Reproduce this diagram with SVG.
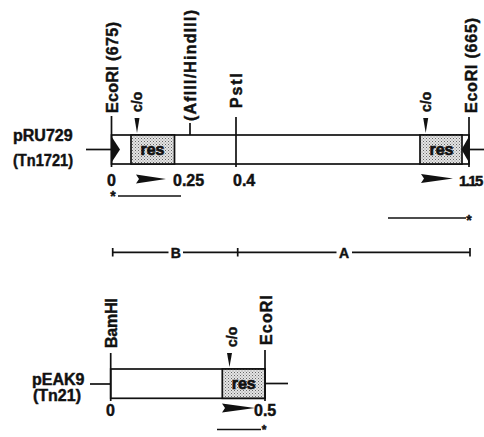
<svg xmlns="http://www.w3.org/2000/svg" width="484" height="437" viewBox="0 0 484 437">
<style>
text{font-family:"Liberation Sans",Arial,sans-serif;font-weight:bold;fill:#111;stroke:#111;stroke-width:0.45}
.ln{stroke:#111;stroke-width:1.7;fill:none}
.bar{stroke:#111;stroke-width:1.7;fill:#fff}
.res{stroke:#111;stroke-width:1.7;fill:url(#dots)}
.lab{font-size:16px}
.num{font-size:16px}
.co{font-size:14px}
.rs{font-size:16px;stroke-width:0.7}
.blk{fill:#111;stroke:none}
</style>
<defs>
<pattern id="dots" width="3" height="3" patternUnits="userSpaceOnUse">
<rect width="3" height="3" fill="#e4e4e4"/>
<rect width="1" height="1" fill="#666"/>
<rect x="1.5" y="1.5" width="1" height="1" fill="#888"/>
</pattern>
</defs>

<g id="pRU729">
<line class="ln" x1="86" y1="149.5" x2="111.5" y2="149.5"/>
<line class="ln" x1="469" y1="149.5" x2="484" y2="149.5"/>
<rect class="bar" x="111.5" y="135" width="357.5" height="29"/>
<rect id="res1" class="res" x="131" y="135" width="43.5" height="29"/>
<rect id="res2" class="res" x="420" y="135" width="42" height="29"/>
<text class="rs" x="152.5" y="155" text-anchor="middle">res</text>
<text class="rs" x="441.5" y="155" text-anchor="middle">res</text>
<polygon class="blk" points="111.5,136.5 120,149.5 111.5,162.5"/>
<polygon class="blk" points="469,136.5 461.5,149.5 469,162.5"/>
<text class="num" x="13" y="141">pRU729</text>
<text class="num" x="13" y="166" textLength="60" lengthAdjust="spacingAndGlyphs">(Tn1721)</text>
</g>

<g id="sites1">
<line class="ln" x1="111.5" y1="116" x2="111.5" y2="167"/>
<text class="lab" transform="translate(117.5,113) rotate(-90)" textLength="91" lengthAdjust="spacing">EcoRI (675)</text>
<polygon class="blk" points="134.5,118 139.5,118 137,133"/>
<text class="co" transform="translate(141.5,112) rotate(-90)">c/o</text>
<line class="ln" x1="190" y1="123" x2="190" y2="135"/>
<text class="lab" transform="translate(196,121) rotate(-90)" textLength="111" lengthAdjust="spacing">(AflII/HindIII)</text>
<line class="ln" x1="236" y1="117" x2="236" y2="167"/>
<text class="lab" transform="translate(241.5,108) rotate(-90)" textLength="35" lengthAdjust="spacing">PstI</text>
<polygon class="blk" points="423.2,118 428.2,118 425.7,133"/>
<text class="co" transform="translate(431,112) rotate(-90)">c/o</text>
<line class="ln" x1="469" y1="117" x2="469" y2="167"/>
<text class="lab" transform="translate(476.5,113) rotate(-90)" textLength="95" lengthAdjust="spacing">EcoRI (665)</text>
</g>

<g id="scale1">
<text class="num" x="111.5" y="186" text-anchor="middle">0</text>
<polygon class="blk" points="136,174.5 166,179 136,183.5 139,179"/>
<text class="num" x="173" y="186">0.25</text>
<text class="num" x="233" y="186">0.4</text>
<polygon class="blk" points="421,174 453,178.5 421,183 424,178.5"/>
<text x="459" y="186" font-size="15" letter-spacing="-1.6">1.15</text>
<text font-size="14" x="113" y="201" text-anchor="middle">*</text>
<line class="ln" x1="118" y1="196" x2="181" y2="196"/>
<line class="ln" x1="388" y1="218" x2="466" y2="218"/>
<text font-size="14" x="469" y="225" text-anchor="middle">*</text>
</g>

<g id="fragments">
<line class="ln" x1="112.7" y1="252.3" x2="168.5" y2="252.3"/>
<line class="ln" x1="183" y1="252.3" x2="336.5" y2="252.3"/>
<line class="ln" x1="352" y1="252.3" x2="470" y2="252.3"/>
<line class="ln" x1="112.7" y1="248" x2="112.7" y2="256.5"/>
<line class="ln" x1="237.7" y1="248" x2="237.7" y2="256.5"/>
<line class="ln" x1="470" y1="248" x2="470" y2="256.5"/>
<text x="175.7" y="257.5" font-size="14" text-anchor="middle">B</text>
<text x="344" y="257.5" font-size="14" text-anchor="middle">A</text>
</g>

<g id="pEAK9">
<line class="ln" x1="90" y1="384" x2="110.7" y2="384"/>
<line class="ln" x1="265" y1="383.5" x2="288" y2="383.5"/>
<rect class="bar" x="110.7" y="369" width="154.3" height="29.3"/>
<rect id="res3" class="res" x="222.3" y="369" width="42.7" height="29.3"/>
<text class="rs" x="243.7" y="389" text-anchor="middle">res</text>
<text class="num" x="32" y="385">pEAK9</text>
<text class="num" x="33" y="401" textLength="48" lengthAdjust="spacing">(Tn21)</text>
<line class="ln" x1="110.7" y1="353" x2="110.7" y2="401"/>
<text class="lab" transform="translate(117,348) rotate(-90)" textLength="50" lengthAdjust="spacing">BamHI</text>
<polygon class="blk" points="227,353 232,353 229.5,367"/>
<text class="co" transform="translate(236.5,347) rotate(-90)">c/o</text>
<line class="ln" x1="265" y1="350" x2="265" y2="401"/>
<text class="lab" transform="translate(271.5,345) rotate(-90)" textLength="50" lengthAdjust="spacing">EcoRI</text>
<text class="num" x="110.5" y="416" text-anchor="middle">0</text>
<polygon class="blk" points="222,403.5 255,408 222,412.5 225,408"/>
<text class="num" x="254" y="416">0.5</text>
<line class="ln" x1="217" y1="429.5" x2="261" y2="429.5"/>
<text font-size="12" x="264" y="433.5" text-anchor="middle">*</text>
</g>
</svg>
